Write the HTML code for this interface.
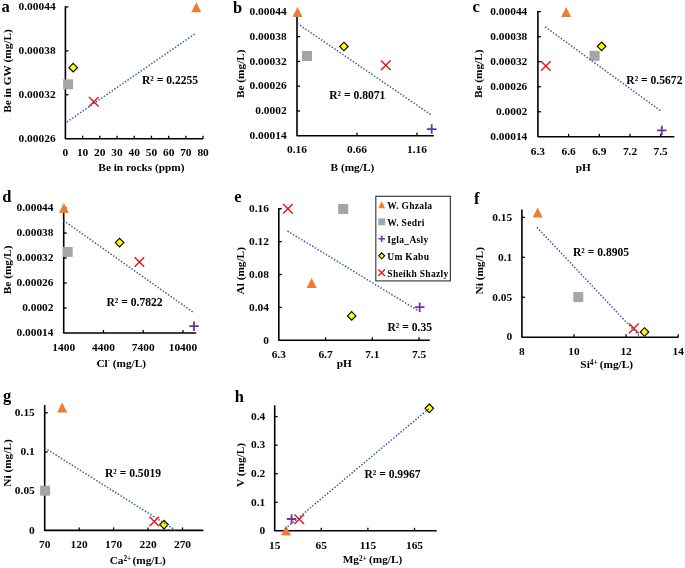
<!DOCTYPE html>
<html><head><meta charset="utf-8"><style>
html,body{margin:0;padding:0;background:#fff;}
svg{display:block;will-change:transform;}
text{font-family:'Liberation Serif', serif;font-weight:bold;fill:#000;}
</style></head><body>
<svg width="685" height="568" viewBox="0 0 685 568">
<rect width="685" height="568" fill="#fff"/>
<path d="M65.40 6.30V138.70H203.10" stroke="#000" stroke-width="1.6" stroke-linejoin="round" fill="none"/>
<path d="M65.40 6.90H68.40" stroke="#000" stroke-width="1.3"/>
<text x="55.60" y="10.15" font-size="11.4" text-anchor="end" >0.00044</text>
<path d="M65.40 50.83H68.40" stroke="#000" stroke-width="1.3"/>
<text x="55.60" y="54.08" font-size="11.4" text-anchor="end" >0.00038</text>
<path d="M65.40 94.77H68.40" stroke="#000" stroke-width="1.3"/>
<text x="55.60" y="98.02" font-size="11.4" text-anchor="end" >0.00032</text>
<text x="55.60" y="141.95" font-size="11.4" text-anchor="end" >0.00026</text>
<text x="65.40" y="156.40" font-size="11.4" text-anchor="middle" >0</text>
<path d="M82.61 138.70V135.70" stroke="#000" stroke-width="1.3"/>
<text x="82.61" y="156.40" font-size="11.4" text-anchor="middle" >10</text>
<path d="M99.82 138.70V135.70" stroke="#000" stroke-width="1.3"/>
<text x="99.82" y="156.40" font-size="11.4" text-anchor="middle" >20</text>
<path d="M117.03 138.70V135.70" stroke="#000" stroke-width="1.3"/>
<text x="117.03" y="156.40" font-size="11.4" text-anchor="middle" >30</text>
<path d="M134.24 138.70V135.70" stroke="#000" stroke-width="1.3"/>
<text x="134.24" y="156.40" font-size="11.4" text-anchor="middle" >40</text>
<path d="M151.45 138.70V135.70" stroke="#000" stroke-width="1.3"/>
<text x="151.45" y="156.40" font-size="11.4" text-anchor="middle" >50</text>
<path d="M168.66 138.70V135.70" stroke="#000" stroke-width="1.3"/>
<text x="168.66" y="156.40" font-size="11.4" text-anchor="middle" >60</text>
<path d="M185.87 138.70V135.70" stroke="#000" stroke-width="1.3"/>
<text x="185.87" y="156.40" font-size="11.4" text-anchor="middle" >70</text>
<path d="M203.08 138.70V135.70" stroke="#000" stroke-width="1.3"/>
<text x="203.08" y="156.40" font-size="11.4" text-anchor="middle" >80</text>
<text x="141.40" y="170.50" font-size="11.3" text-anchor="middle" >Be in rocks (ppm)</text>
<text transform="translate(11.20,71.00) rotate(-90)" font-size="11.3" text-anchor="middle">Be in GW (mg/L)</text>
<text x="1.60" y="12.40" font-size="16.5" text-anchor="start" >a</text>
<polygon points="196.30,2.20 201.30,12.20 191.30,12.20" fill="#ED7D31"/>
<rect x="63.10" y="79.30" width="10.00" height="10.00" fill="#A5A5A5"/>
<polygon points="73.20,63.40 77.50,67.70 73.20,72.00 68.90,67.70" fill="#FFFF00" stroke="#000" stroke-width="1.1"/>
<path d="M89.00 97.00L98.60 106.60M89.00 106.60L98.60 97.00" stroke="#E8141C" stroke-width="1.4" fill="none"/>
<line x1="66.90" y1="122.00" x2="194.90" y2="33.90" stroke="#3A5EAE" stroke-width="1.5" stroke-dasharray="1.5 1.7"/>
<text x="142.00" y="83.80" font-size="11.6" text-anchor="start" >R² = 0.2255</text>
<path d="M297.00 11.50V135.70H433.80" stroke="#000" stroke-width="1.6" stroke-linejoin="round" fill="none"/>
<path d="M297.00 11.90H300.00" stroke="#000" stroke-width="1.3"/>
<text x="286.60" y="15.15" font-size="11.4" text-anchor="end" >0.00044</text>
<path d="M297.00 36.66H300.00" stroke="#000" stroke-width="1.3"/>
<text x="286.60" y="39.91" font-size="11.4" text-anchor="end" >0.00038</text>
<path d="M297.00 61.42H300.00" stroke="#000" stroke-width="1.3"/>
<text x="286.60" y="64.67" font-size="11.4" text-anchor="end" >0.00032</text>
<path d="M297.00 86.18H300.00" stroke="#000" stroke-width="1.3"/>
<text x="286.60" y="89.43" font-size="11.4" text-anchor="end" >0.00026</text>
<path d="M297.00 110.94H300.00" stroke="#000" stroke-width="1.3"/>
<text x="286.60" y="114.19" font-size="11.4" text-anchor="end" >0.0002</text>
<text x="286.60" y="138.95" font-size="11.4" text-anchor="end" >0.00014</text>
<text x="297.00" y="153.40" font-size="11.4" text-anchor="middle" >0.16</text>
<path d="M357.00 135.70V132.70" stroke="#000" stroke-width="1.3"/>
<text x="357.00" y="153.40" font-size="11.4" text-anchor="middle" >0.66</text>
<path d="M417.00 135.70V132.70" stroke="#000" stroke-width="1.3"/>
<text x="417.00" y="153.40" font-size="11.4" text-anchor="middle" >1.16</text>
<text x="352.40" y="170.60" font-size="11.3" text-anchor="middle" >B (mg/L)</text>
<text transform="translate(244.30,73.70) rotate(-90)" font-size="11.3" text-anchor="middle">Be (mg/L)</text>
<text x="233.00" y="12.70" font-size="16.5" text-anchor="start" >b</text>
<polygon points="297.50,7.00 302.50,17.00 292.50,17.00" fill="#ED7D31"/>
<rect x="302.00" y="51.00" width="10.00" height="10.00" fill="#A5A5A5"/>
<polygon points="343.90,42.20 348.20,46.50 343.90,50.80 339.60,46.50" fill="#FFFF00" stroke="#000" stroke-width="1.1"/>
<path d="M381.00 60.40L390.60 70.00M381.00 70.00L390.60 60.40" stroke="#E8141C" stroke-width="1.4" fill="none"/>
<path d="M426.95 129.10H436.45M431.70 124.35V133.85" stroke="#7030A0" stroke-width="1.8" fill="none"/>
<line x1="297.30" y1="23.40" x2="431.10" y2="114.80" stroke="#3A5EAE" stroke-width="1.5" stroke-dasharray="1.5 1.7"/>
<text x="329.20" y="98.70" font-size="11.6" text-anchor="start" >R² = 0.8071</text>
<path d="M537.90 11.00V136.80H674.40" stroke="#000" stroke-width="1.6" stroke-linejoin="round" fill="none"/>
<path d="M537.90 11.60H540.90" stroke="#000" stroke-width="1.3"/>
<text x="527.30" y="14.85" font-size="11.4" text-anchor="end" >0.00044</text>
<path d="M537.90 36.64H540.90" stroke="#000" stroke-width="1.3"/>
<text x="527.30" y="39.89" font-size="11.4" text-anchor="end" >0.00038</text>
<path d="M537.90 61.68H540.90" stroke="#000" stroke-width="1.3"/>
<text x="527.30" y="64.93" font-size="11.4" text-anchor="end" >0.00032</text>
<path d="M537.90 86.72H540.90" stroke="#000" stroke-width="1.3"/>
<text x="527.30" y="89.97" font-size="11.4" text-anchor="end" >0.00026</text>
<path d="M537.90 111.76H540.90" stroke="#000" stroke-width="1.3"/>
<text x="527.30" y="115.01" font-size="11.4" text-anchor="end" >0.0002</text>
<text x="527.30" y="140.05" font-size="11.4" text-anchor="end" >0.00014</text>
<text x="537.90" y="154.50" font-size="11.4" text-anchor="middle" >6.3</text>
<path d="M568.60 136.80V133.80" stroke="#000" stroke-width="1.3"/>
<text x="568.60" y="154.50" font-size="11.4" text-anchor="middle" >6.6</text>
<path d="M599.30 136.80V133.80" stroke="#000" stroke-width="1.3"/>
<text x="599.30" y="154.50" font-size="11.4" text-anchor="middle" >6.9</text>
<path d="M630.00 136.80V133.80" stroke="#000" stroke-width="1.3"/>
<text x="630.00" y="154.50" font-size="11.4" text-anchor="middle" >7.2</text>
<path d="M660.70 136.80V133.80" stroke="#000" stroke-width="1.3"/>
<text x="660.70" y="154.50" font-size="11.4" text-anchor="middle" >7.5</text>
<text x="583.30" y="170.70" font-size="11.3" text-anchor="middle" >pH</text>
<text transform="translate(482.20,73.80) rotate(-90)" font-size="11.3" text-anchor="middle">Be (mg/L)</text>
<text x="472.50" y="12.30" font-size="16.5" text-anchor="start" >c</text>
<polygon points="566.20,6.90 571.20,16.90 561.20,16.90" fill="#ED7D31"/>
<rect x="589.60" y="50.80" width="10.00" height="10.00" fill="#A5A5A5"/>
<polygon points="601.60,42.00 605.90,46.30 601.60,50.60 597.30,46.30" fill="#FFFF00" stroke="#000" stroke-width="1.1"/>
<path d="M541.10 61.20L550.70 70.80M541.10 70.80L550.70 61.20" stroke="#E8141C" stroke-width="1.4" fill="none"/>
<path d="M657.05 130.40H666.55M661.80 125.65V135.15" stroke="#7030A0" stroke-width="1.8" fill="none"/>
<line x1="545.20" y1="26.90" x2="660.50" y2="110.70" stroke="#3A5EAE" stroke-width="1.5" stroke-dasharray="1.5 1.7"/>
<text x="626.30" y="84.10" font-size="11.6" text-anchor="start" >R² = 0.5672</text>
<path d="M63.70 207.50V333.00H196.20" stroke="#000" stroke-width="1.6" stroke-linejoin="round" fill="none"/>
<path d="M63.70 208.00H66.70" stroke="#000" stroke-width="1.3"/>
<text x="53.50" y="211.25" font-size="11.4" text-anchor="end" >0.00044</text>
<path d="M63.70 233.00H66.70" stroke="#000" stroke-width="1.3"/>
<text x="53.50" y="236.25" font-size="11.4" text-anchor="end" >0.00038</text>
<path d="M63.70 258.00H66.70" stroke="#000" stroke-width="1.3"/>
<text x="53.50" y="261.25" font-size="11.4" text-anchor="end" >0.00032</text>
<path d="M63.70 283.00H66.70" stroke="#000" stroke-width="1.3"/>
<text x="53.50" y="286.25" font-size="11.4" text-anchor="end" >0.00026</text>
<path d="M63.70 308.00H66.70" stroke="#000" stroke-width="1.3"/>
<text x="53.50" y="311.25" font-size="11.4" text-anchor="end" >0.0002</text>
<text x="53.50" y="336.25" font-size="11.4" text-anchor="end" >0.00014</text>
<text x="63.70" y="350.70" font-size="11.4" text-anchor="middle" >1400</text>
<path d="M103.45 333.00V330.00" stroke="#000" stroke-width="1.3"/>
<text x="103.45" y="350.70" font-size="11.4" text-anchor="middle" >4400</text>
<path d="M143.20 333.00V330.00" stroke="#000" stroke-width="1.3"/>
<text x="143.20" y="350.70" font-size="11.4" text-anchor="middle" >7400</text>
<path d="M182.95 333.00V330.00" stroke="#000" stroke-width="1.3"/>
<text x="182.95" y="350.70" font-size="11.4" text-anchor="middle" >10400</text>
<text x="121.20" y="366.50" font-size="11.3" text-anchor="middle" >Cl<tspan font-size="6.5" dy="-4.3">-</tspan><tspan dy="4.3"> (mg/L)</tspan></text>
<text transform="translate(11.20,269.90) rotate(-90)" font-size="11.3" text-anchor="middle">Be (mg/L)</text>
<text x="2.20" y="202.40" font-size="16.5" text-anchor="start" >d</text>
<polygon points="63.85,203.00 68.85,213.00 58.85,213.00" fill="#ED7D31"/>
<rect x="62.70" y="246.90" width="10.00" height="10.00" fill="#A5A5A5"/>
<polygon points="119.60,238.30 123.90,242.60 119.60,246.90 115.30,242.60" fill="#FFFF00" stroke="#000" stroke-width="1.1"/>
<path d="M134.60 257.20L144.20 266.80M134.60 266.80L144.20 257.20" stroke="#E8141C" stroke-width="1.4" fill="none"/>
<path d="M189.25 326.20H198.75M194.00 321.45V330.95" stroke="#7030A0" stroke-width="1.8" fill="none"/>
<line x1="63.50" y1="220.50" x2="193.20" y2="312.30" stroke="#3A5EAE" stroke-width="1.5" stroke-dasharray="1.5 1.7"/>
<text x="106.50" y="305.50" font-size="11.6" text-anchor="start" >R² = 0.7822</text>
<path d="M278.80 208.10V340.30H429.80" stroke="#000" stroke-width="1.6" stroke-linejoin="round" fill="none"/>
<path d="M278.80 208.70H281.80" stroke="#000" stroke-width="1.3"/>
<text x="268.90" y="211.95" font-size="11.4" text-anchor="end" >0.16</text>
<path d="M278.80 241.60H281.80" stroke="#000" stroke-width="1.3"/>
<text x="268.90" y="244.85" font-size="11.4" text-anchor="end" >0.12</text>
<path d="M278.80 274.50H281.80" stroke="#000" stroke-width="1.3"/>
<text x="268.90" y="277.75" font-size="11.4" text-anchor="end" >0.08</text>
<path d="M278.80 307.40H281.80" stroke="#000" stroke-width="1.3"/>
<text x="268.90" y="310.65" font-size="11.4" text-anchor="end" >0.04</text>
<text x="268.90" y="343.55" font-size="11.4" text-anchor="end" >0</text>
<text x="278.80" y="358.00" font-size="11.4" text-anchor="middle" >6.3</text>
<path d="M325.55 340.30V337.30" stroke="#000" stroke-width="1.3"/>
<text x="325.55" y="358.00" font-size="11.4" text-anchor="middle" >6.7</text>
<path d="M372.30 340.30V337.30" stroke="#000" stroke-width="1.3"/>
<text x="372.30" y="358.00" font-size="11.4" text-anchor="middle" >7.1</text>
<path d="M419.05 340.30V337.30" stroke="#000" stroke-width="1.3"/>
<text x="419.05" y="358.00" font-size="11.4" text-anchor="middle" >7.5</text>
<text x="344.20" y="366.80" font-size="11.3" text-anchor="middle" >pH</text>
<text transform="translate(244.00,270.80) rotate(-90)" font-size="11.3" text-anchor="middle">Al (mg/L)</text>
<text x="234.20" y="202.10" font-size="16.5" text-anchor="start" >e</text>
<polygon points="311.60,278.00 316.60,288.00 306.60,288.00" fill="#ED7D31"/>
<rect x="338.20" y="204.00" width="10.00" height="10.00" fill="#A5A5A5"/>
<polygon points="351.70,311.60 356.00,315.90 351.70,320.20 347.40,315.90" fill="#FFFF00" stroke="#000" stroke-width="1.1"/>
<path d="M283.10 203.90L292.70 213.50M283.10 213.50L292.70 203.90" stroke="#E8141C" stroke-width="1.4" fill="none"/>
<path d="M414.95 307.20H424.45M419.70 302.45V311.95" stroke="#7030A0" stroke-width="1.8" fill="none"/>
<line x1="287.50" y1="231.00" x2="418.00" y2="310.50" stroke="#3A5EAE" stroke-width="1.5" stroke-dasharray="1.5 1.7"/>
<text x="387.50" y="330.60" font-size="11.6" text-anchor="start" >R² = 0.35</text>
<path d="M521.90 209.50V337.20H678.20" stroke="#000" stroke-width="1.6" stroke-linejoin="round" fill="none"/>
<path d="M521.90 217.40H524.90" stroke="#000" stroke-width="1.3"/>
<text x="512.20" y="220.65" font-size="11.4" text-anchor="end" >0.15</text>
<path d="M521.90 257.33H524.90" stroke="#000" stroke-width="1.3"/>
<text x="512.20" y="260.58" font-size="11.4" text-anchor="end" >0.1</text>
<path d="M521.90 297.27H524.90" stroke="#000" stroke-width="1.3"/>
<text x="512.20" y="300.52" font-size="11.4" text-anchor="end" >0.05</text>
<text x="512.20" y="340.45" font-size="11.4" text-anchor="end" >0</text>
<text x="521.90" y="354.90" font-size="11.4" text-anchor="middle" >8</text>
<path d="M574.00 337.20V334.20" stroke="#000" stroke-width="1.3"/>
<text x="574.00" y="354.90" font-size="11.4" text-anchor="middle" >10</text>
<path d="M626.10 337.20V334.20" stroke="#000" stroke-width="1.3"/>
<text x="626.10" y="354.90" font-size="11.4" text-anchor="middle" >12</text>
<path d="M678.20 337.20V334.20" stroke="#000" stroke-width="1.3"/>
<text x="678.20" y="354.90" font-size="11.4" text-anchor="middle" >14</text>
<text x="606.70" y="368.10" font-size="11.3" text-anchor="middle" >Si<tspan font-size="7.3" dy="-2.7">4+</tspan><tspan dy="2.7" dx="2.2">(mg/L)</tspan></text>
<text transform="translate(483.40,270.80) rotate(-90)" font-size="11.3" text-anchor="middle">Ni (mg/L)</text>
<text x="474.10" y="203.70" font-size="16.5" text-anchor="start" >f</text>
<polygon points="537.70,207.40 542.70,217.40 532.70,217.40" fill="#ED7D31"/>
<rect x="573.30" y="292.10" width="10.00" height="10.00" fill="#A5A5A5"/>
<polygon points="644.50,327.70 648.80,332.00 644.50,336.30 640.20,332.00" fill="#FFFF00" stroke="#000" stroke-width="1.1"/>
<path d="M629.10 323.60L638.70 333.20M629.10 333.20L638.70 323.60" stroke="#E8141C" stroke-width="1.4" fill="none"/>
<line x1="536.90" y1="227.30" x2="639.70" y2="336.30" stroke="#3A5EAE" stroke-width="1.5" stroke-dasharray="1.5 1.7"/>
<text x="573.00" y="255.70" font-size="11.6" text-anchor="start" >R² = 0.8905</text>
<path d="M44.70 404.90V530.40H203.40" stroke="#000" stroke-width="1.6" stroke-linejoin="round" fill="none"/>
<path d="M44.70 412.80H47.70" stroke="#000" stroke-width="1.3"/>
<text x="34.80" y="416.05" font-size="11.4" text-anchor="end" >0.15</text>
<path d="M44.70 452.00H47.70" stroke="#000" stroke-width="1.3"/>
<text x="34.80" y="455.25" font-size="11.4" text-anchor="end" >0.1</text>
<path d="M44.70 491.20H47.70" stroke="#000" stroke-width="1.3"/>
<text x="34.80" y="494.45" font-size="11.4" text-anchor="end" >0.05</text>
<text x="34.80" y="533.65" font-size="11.4" text-anchor="end" >0</text>
<text x="44.70" y="548.10" font-size="11.4" text-anchor="middle" >70</text>
<path d="M79.15 530.40V527.40" stroke="#000" stroke-width="1.3"/>
<text x="79.15" y="548.10" font-size="11.4" text-anchor="middle" >120</text>
<path d="M113.60 530.40V527.40" stroke="#000" stroke-width="1.3"/>
<text x="113.60" y="548.10" font-size="11.4" text-anchor="middle" >170</text>
<path d="M148.05 530.40V527.40" stroke="#000" stroke-width="1.3"/>
<text x="148.05" y="548.10" font-size="11.4" text-anchor="middle" >220</text>
<path d="M182.50 530.40V527.40" stroke="#000" stroke-width="1.3"/>
<text x="182.50" y="548.10" font-size="11.4" text-anchor="middle" >270</text>
<text x="137.70" y="563.50" font-size="11.3" text-anchor="middle" >Ca<tspan font-size="7.3" dy="-2.7">2+</tspan><tspan dy="2.7" dx="1.2">(mg/L)</tspan></text>
<text transform="translate(11.20,463.00) rotate(-90)" font-size="11.3" text-anchor="middle">Ni (mg/L)</text>
<text x="3.00" y="401.00" font-size="16.5" text-anchor="start" >g</text>
<polygon points="62.20,402.60 67.20,412.60 57.20,412.60" fill="#ED7D31"/>
<rect x="40.10" y="485.70" width="10.00" height="10.00" fill="#A5A5A5"/>
<polygon points="164.00,520.30 168.30,524.60 164.00,528.90 159.70,524.60" fill="#FFFF00" stroke="#000" stroke-width="1.1"/>
<path d="M149.50 516.70L159.10 526.30M149.50 526.30L159.10 516.70" stroke="#E8141C" stroke-width="1.4" fill="none"/>
<line x1="44.70" y1="447.90" x2="175.80" y2="530.40" stroke="#3A5EAE" stroke-width="1.5" stroke-dasharray="1.5 1.7"/>
<text x="104.90" y="476.80" font-size="11.6" text-anchor="start" >R² = 0.5019</text>
<path d="M274.70 405.30V530.80H436.70" stroke="#000" stroke-width="1.6" stroke-linejoin="round" fill="none"/>
<path d="M274.70 416.60H277.70" stroke="#000" stroke-width="1.3"/>
<text x="265.20" y="419.85" font-size="11.4" text-anchor="end" >0.4</text>
<path d="M274.70 445.15H277.70" stroke="#000" stroke-width="1.3"/>
<text x="265.20" y="448.40" font-size="11.4" text-anchor="end" >0.3</text>
<path d="M274.70 473.70H277.70" stroke="#000" stroke-width="1.3"/>
<text x="265.20" y="476.95" font-size="11.4" text-anchor="end" >0.2</text>
<path d="M274.70 502.25H277.70" stroke="#000" stroke-width="1.3"/>
<text x="265.20" y="505.50" font-size="11.4" text-anchor="end" >0.1</text>
<text x="265.20" y="534.05" font-size="11.4" text-anchor="end" >0</text>
<text x="274.70" y="548.50" font-size="11.4" text-anchor="middle" >15</text>
<path d="M321.30 530.80V527.80" stroke="#000" stroke-width="1.3"/>
<text x="321.30" y="548.50" font-size="11.4" text-anchor="middle" >65</text>
<path d="M367.90 530.80V527.80" stroke="#000" stroke-width="1.3"/>
<text x="367.90" y="548.50" font-size="11.4" text-anchor="middle" >115</text>
<path d="M414.50 530.80V527.80" stroke="#000" stroke-width="1.3"/>
<text x="414.50" y="548.50" font-size="11.4" text-anchor="middle" >165</text>
<text x="372.50" y="563.40" font-size="11.3" text-anchor="middle" >Mg<tspan font-size="7.3" dy="-2.7">2+</tspan><tspan dy="2.7" dx="2.2">(mg/L)</tspan></text>
<text transform="translate(244.40,465.00) rotate(-90)" font-size="11.3" text-anchor="middle">V (mg/L)</text>
<text x="234.70" y="401.70" font-size="16.5" text-anchor="start" >h</text>
<polygon points="286.00,525.40 291.00,535.40 281.00,535.40" fill="#ED7D31"/>
<path d="M286.85 519.00H296.35M291.60 514.25V523.75" stroke="#7030A0" stroke-width="1.8" fill="none"/>
<path d="M294.50 514.40L304.10 524.00M294.50 524.00L304.10 514.40" stroke="#E8141C" stroke-width="1.4" fill="none"/>
<polygon points="429.30,404.00 433.60,408.30 429.30,412.60 425.00,408.30" fill="#FFFF00" stroke="#000" stroke-width="1.1"/>
<line x1="285.30" y1="528.80" x2="429.00" y2="408.60" stroke="#3A5EAE" stroke-width="1.5" stroke-dasharray="1.5 1.7"/>
<text x="364.40" y="477.60" font-size="11.6" text-anchor="start" >R² = 0.9967</text>
<rect x="375.8" y="196.3" width="74.6" height="84.6" fill="#fff" stroke="#404040" stroke-width="1.2"/>
<polygon points="381.70,201.35 385.15,208.25 378.25,208.25" fill="#ED7D31"/>
<text x="387.30" y="208.60" font-size="9.5" text-anchor="start" letter-spacing="0.3">W. Ghzala</text>
<rect x="378.25" y="218.35" width="6.90" height="6.90" fill="#A5A5A5"/>
<text x="387.30" y="225.60" font-size="9.5" text-anchor="start" letter-spacing="0.3">W. Sedri</text>
<path d="M378.42 238.80H384.98M381.70 235.52V242.08" stroke="#7030A0" stroke-width="1.5" fill="none"/>
<text x="387.30" y="242.60" font-size="9.5" text-anchor="start" letter-spacing="0.3">Igla_Asly</text>
<polygon points="381.70,252.83 384.67,255.80 381.70,258.77 378.73,255.80" fill="#FFFF00" stroke="#000" stroke-width="1.1"/>
<text x="387.30" y="259.60" font-size="9.5" text-anchor="start" letter-spacing="0.3">Um Kabu</text>
<path d="M378.39 269.49L385.01 276.11M378.39 276.11L385.01 269.49" stroke="#E8141C" stroke-width="1.4" fill="none"/>
<text x="387.30" y="276.60" font-size="9.5" text-anchor="start" letter-spacing="0.3">Sheikh Shazly</text>
</svg>
</body></html>
